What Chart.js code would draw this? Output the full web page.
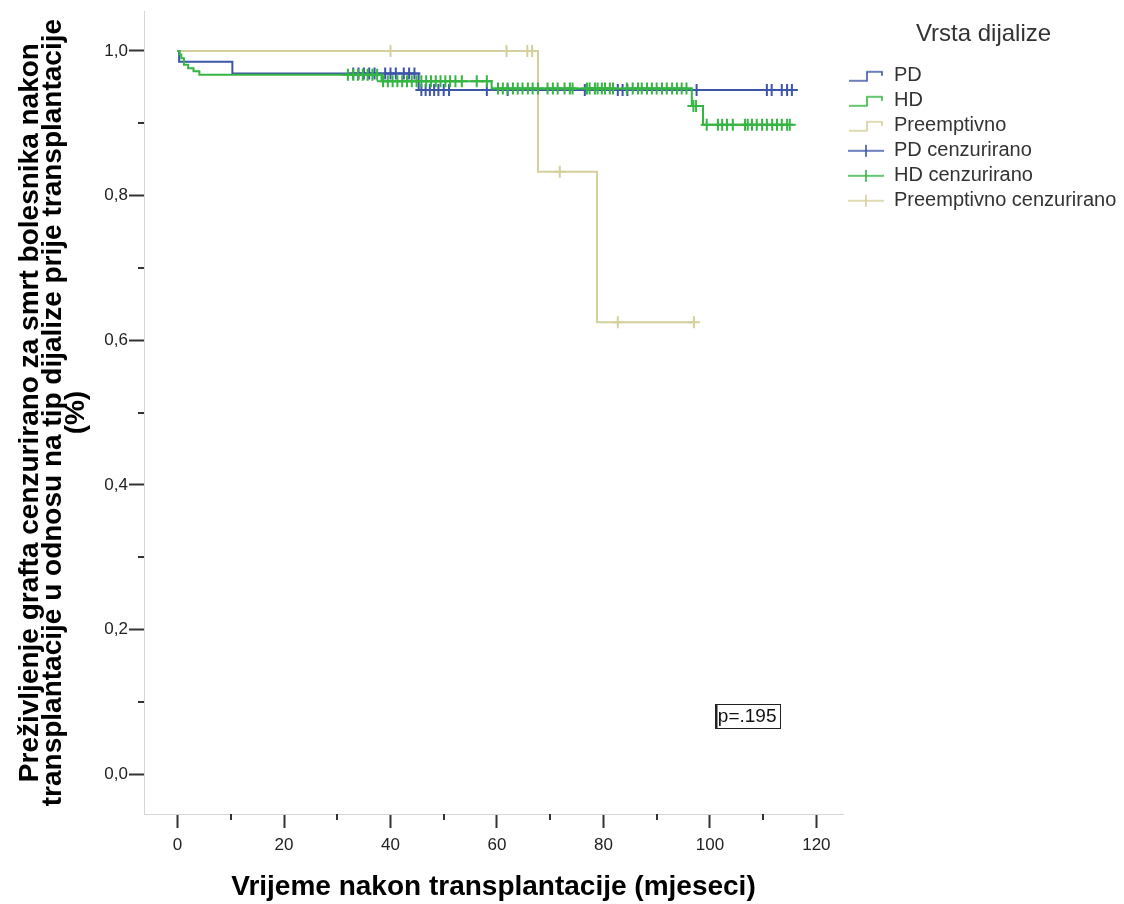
<!DOCTYPE html>
<html><head><meta charset="utf-8">
<script src="https://cdn.jsdelivr.net/npm/chart.js@4"></script>
<style>html,body{margin:0;padding:0;background:#fff}canvas{display:block}</style>
</head><body>
<canvas id="c" width="1124" height="904"></canvas>
<script>
// ---- Data (Kaplan-Meier steps) ----
const pdTime = [0, 0.3, 10.3, 45.3, 115.6];
const pdSurv = [1.0, 0.985, 0.969, 0.946, 0.946];
const pdCensTime = [33.0, 34.0, 35.0, 36.0, 37.0, 39.0, 40.0, 41.0, 42.5, 43.5, 44.5,
  45.8, 46.6, 47.4, 48.2, 49.0, 50.0, 51.0, 58.1, 62.0, 76.5, 82.7, 83.6, 84.5, 97.5, 110.7, 111.6, 113.5, 114.5, 115.4];
const pdCensSurv = [0.969, 0.969, 0.969, 0.969, 0.969, 0.969, 0.969, 0.969, 0.969, 0.969, 0.969,
  0.946, 0.946, 0.946, 0.946, 0.946, 0.946, 0.946, 0.946, 0.946, 0.946, 0.946, 0.946, 0.946, 0.946, 0.946, 0.946, 0.946, 0.946, 0.946];

const hdTime = [0, 0.4, 0.7, 1.2, 2.0, 3.0, 4.1, 38.3, 59.0, 96.6, 98.7, 115.0];
const hdSurv = [1.0, 0.995, 0.990, 0.981, 0.976, 0.972, 0.967, 0.958, 0.948, 0.924, 0.898, 0.898];
const hdCensTime = [32.0, 33.0, 33.9, 34.8, 35.7, 36.6, 37.5,
  38.6, 39.5, 40.4, 41.3, 42.2, 43.1, 44.0, 44.9, 45.8, 46.7, 47.6, 48.5, 49.4, 50.3, 51.2, 52.2, 53.4, 56.2, 58.1,
  60.2, 61.1, 62.0, 63.0, 63.9, 64.8, 65.8, 66.7, 67.7, 69.5, 70.5, 71.4, 72.7, 73.7, 74.2, 76.9, 77.4, 78.4, 78.9, 79.7, 80.3, 81.2, 81.8, 84.4, 85.5, 86.5, 87.2, 88.2, 89.1, 90.0, 91.0, 91.9, 92.9, 93.8, 94.7, 95.6,
  96.9, 97.4,
  99.4, 101.5, 102.3, 103.2, 104.3, 106.6, 107.1, 107.9, 108.8, 109.8, 110.7, 111.7, 112.6, 113.5, 114.5, 115.0];
const hdCensSurv = [0.967, 0.967, 0.967, 0.967, 0.967, 0.967, 0.967,
  0.958, 0.958, 0.958, 0.958, 0.958, 0.958, 0.958, 0.958, 0.958, 0.958, 0.958, 0.958, 0.958, 0.958, 0.958, 0.958, 0.958, 0.958, 0.958,
  0.948, 0.948, 0.948, 0.948, 0.948, 0.948, 0.948, 0.948, 0.948, 0.948, 0.948, 0.948, 0.948, 0.948, 0.948, 0.948, 0.948, 0.948, 0.948, 0.948, 0.948, 0.948, 0.948, 0.948, 0.948, 0.948, 0.948, 0.948, 0.948, 0.948, 0.948, 0.948, 0.948, 0.948, 0.948, 0.948,
  0.924, 0.924,
  0.898, 0.898, 0.898, 0.898, 0.898, 0.898, 0.898, 0.898, 0.898, 0.898, 0.898, 0.898, 0.898, 0.898, 0.898, 0.898];

const preTime = [0, 67.7, 78.8, 97.0];
const preSurv = [1.0, 0.833, 0.625, 0.625];
const preCensTime = [40.0, 61.8, 65.7, 66.6, 71.8, 82.7, 97.0];
const preCensSurv = [1.0, 1.0, 1.0, 1.0, 0.833, 0.625, 0.625];

const seriesLabels = ['PD', 'HD', 'Preemptivno', 'PD cenzurirano', 'HD cenzurirano', 'Preemptivno cenzurirano'];
const xTicks = [0, 20, 40, 60, 80, 100, 120];
const xMinorTicks = [10, 30, 50, 70, 90, 110];
const yTicks = [0, 0.2, 0.4, 0.6, 0.8, 1.0];
const yTickLabels = ['0,0', '0,2', '0,4', '0,6', '0,8', '1,0'];
const yMinorTicks = [0.1, 0.3, 0.5, 0.7, 0.9];
const legendTitle = 'Vrsta dijalize';
const xTitle = 'Vrijeme nakon transplantacije (mjeseci)';
const yTitle = ['Preživljenje grafta cenzurirano za smrt bolesnika nakon',
  'transplantacije u odnosu na tip dijalize prije transplantacije', '(%)'];
const pText = 'p=.195';
const pPos = [107.0, 0.081];

// ---- Styles ----
const BLUE = '#3d55a8', GREEN = '#35b541', TAN = '#d5cf9d';
const FONT = "'Liberation Sans', Arial, sans-serif";

function pts(xs, ys) { return xs.map((x, i) => ({ x: x, y: ys[i] })); }

function stepIcon(color) {
  const c = document.createElement('canvas'); c.width = 36; c.height = 14;
  const g = c.getContext('2d'); g.strokeStyle = color; g.lineWidth = 1.6;
  g.beginPath(); g.moveTo(1, 12); g.lineTo(19, 12); g.lineTo(19, 3); g.lineTo(34, 3); g.lineTo(34, 7); g.stroke();
  return c;
}
function censIcon(color) {
  const c = document.createElement('canvas'); c.width = 36; c.height = 14;
  const g = c.getContext('2d'); g.strokeStyle = color; g.lineWidth = 1.6;
  g.beginPath(); g.moveTo(0, 7); g.lineTo(36, 7); g.moveTo(18, 1); g.lineTo(18, 13); g.stroke();
  return c;
}
const icons = [stepIcon(BLUE), stepIcon(GREEN), stepIcon(TAN), censIcon(BLUE), censIcon(GREEN), censIcon(TAN)];

function curve(label, xs, ys, color, order) {
  return { label: label, data: pts(xs, ys), showLine: true, stepped: 'before', borderColor: color,
    borderWidth: 2, pointRadius: 0, pointHoverRadius: 0, fill: false, order: order };
}
function cens(label, xs, ys, color, order) {
  return { label: label, data: pts(xs, ys), showLine: false, pointStyle: 'cross', pointRadius: 6,
    pointBorderWidth: 2, borderColor: color, backgroundColor: color, order: order };
}

const extras = {
  id: 'extras',
  afterDraw(chart) {
    const ctx = chart.ctx, xs = chart.scales.x, ys = chart.scales.y, ca = chart.chartArea;
    ctx.save();
    ctx.strokeStyle = '#333'; ctx.lineWidth = 2;
    yMinorTicks.forEach(v => {
      const py = Math.round(ys.getPixelForValue(v));
      ctx.beginPath(); ctx.moveTo(ca.left - 6, py); ctx.lineTo(ca.left, py); ctx.stroke();
    });
    xMinorTicks.forEach(v => {
      const px = Math.round(xs.getPixelForValue(v));
      ctx.beginPath(); ctx.moveTo(px, ca.bottom); ctx.lineTo(px, ca.bottom + 6); ctx.stroke();
    });
    // p-value box
    const cx = xs.getPixelForValue(pPos[0]), cy = ys.getPixelForValue(pPos[1]);
    ctx.font = '19px ' + FONT; ctx.fillStyle = '#111'; ctx.textAlign = 'center'; ctx.textBaseline = 'middle';
    const w = ctx.measureText(pText).width + 6, h = 24;
    ctx.fillText(pText, cx, cy + 1);
    ctx.strokeStyle = '#222'; ctx.lineWidth = 1;
    ctx.strokeRect(Math.round(cx - w / 2) + 0.5, Math.round(cy - h / 2) + 0.5, Math.round(w), h);
    ctx.lineWidth = 2;
    ctx.beginPath(); ctx.moveTo(Math.round(cx - w / 2) + 1.5, Math.round(cy - h / 2)); ctx.lineTo(Math.round(cx - w / 2) + 1.5, Math.round(cy + h / 2)); ctx.stroke();
    ctx.restore();
  }
};

new Chart(document.getElementById('c'), {
  type: 'scatter',
  data: {
    datasets: [
      curve(seriesLabels[0], pdTime, pdSurv, BLUE, 3),
      curve(seriesLabels[1], hdTime, hdSurv, GREEN, 1),
      curve(seriesLabels[2], preTime, preSurv, TAN, 5),
      cens(seriesLabels[3], pdCensTime, pdCensSurv, BLUE, 2),
      cens(seriesLabels[4], hdCensTime, hdCensSurv, GREEN, 0),
      cens(seriesLabels[5], preCensTime, preCensSurv, TAN, 4)
    ]
  },
  options: {
    responsive: false,
    animation: false,
    devicePixelRatio: 1,
    layout: { padding: { top: 8, left: 0, right: 0, bottom: 0 } },
    plugins: {
      tooltip: { enabled: false },
      legend: {
        position: 'right',
        align: 'start',
        title: { display: true, text: legendTitle, color: '#333', font: { family: FONT, size: 24 }, padding: { top: 14, bottom: 10 } },
        labels: {
          usePointStyle: true, pointStyleWidth: 36, boxHeight: 14, padding: 5,
          color: '#111', font: { family: FONT, size: 20 },
          generateLabels: () => seriesLabels.map((t, i) => ({ text: t, pointStyle: icons[i], datasetIndex: i, hidden: false, lineWidth: 0, strokeStyle: 'rgba(0,0,0,0)', fillStyle: 'rgba(0,0,0,0)' }))
        }
      }
    },
    scales: {
      x: {
        type: 'linear', min: -6.3, max: 125,
        afterBuildTicks: s => { s.ticks = xTicks.map(v => ({ value: v })); },
        afterFit: s => { s.height = 90; },
        border: { display: true, color: '#d6d6d6', width: 1 },
        grid: { drawOnChartArea: false, drawTicks: true, tickLength: 14, tickColor: '#333', tickWidth: 2 },
        ticks: { color: '#222', font: { family: FONT, size: 17 }, padding: 7, maxRotation: 0 },
        title: { display: true, text: xTitle, color: '#000', font: { family: FONT, size: 28, weight: 'bold' }, padding: { top: 0, bottom: 0 } }
      },
      y: {
        type: 'linear', min: -0.055, max: 1.055,
        afterBuildTicks: s => { s.ticks = yTicks.map(v => ({ value: v })); },
        afterFit: s => { s.width = 144; },
        border: { display: true, color: '#d6d6d6', width: 1 },
        grid: { drawOnChartArea: false, drawTicks: true, tickLength: 15, tickColor: '#333', tickWidth: 2 },
        ticks: { color: '#222', font: { family: FONT, size: 17 }, padding: 1,
          callback: (v) => { const i = yTicks.findIndex(t => Math.abs(t - v) < 1e-6); return i >= 0 ? yTickLabels[i] : ''; } },
        title: { display: true, text: yTitle, color: '#000', font: { family: FONT, size: 28, weight: 'bold', lineHeight: 0.82 }, padding: { top: 19, bottom: 0 } }
      }
    }
  },
  plugins: [extras]
});
</script>
</body></html>
